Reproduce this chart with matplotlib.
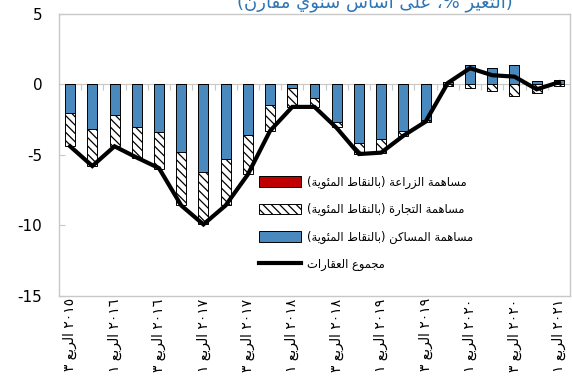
import re
import matplotlib
matplotlib.use("Agg")
import matplotlib.pyplot as plt
from matplotlib import font_manager
import numpy as np

# ---------------- data ----------------
tick_labels = ["٢٠١٥ الربع ٣", "٢٠١٦ الربع ١", "٢٠١٦ الربع ٣", "٢٠١٧ الربع ١",
               "٢٠١٧ الربع ٣", "٢٠١٨ الربع ١", "٢٠١٨ الربع ٣", "٢٠١٩ الربع ١",
               "٢٠١٩ الربع ٣", "٢٠٢٠ الربع ١", "٢٠٢٠ الربع ٣", "٢٠٢١ الربع ١"]
housing = [-2.0, -3.2, -2.2, -3.0, -3.4, -4.8, -6.2, -5.3, -3.6, -1.45, -0.25, -0.95,
           -2.7, -4.15, -3.9, -3.3, -2.5, 0.2, 1.4, 1.15, 1.4, 0.25, 0.3]
trade = [-2.4, -2.6, -2.2, -2.2, -2.6, -3.8, -3.75, -3.3, -2.8, -1.85, -1.35, -0.65,
         -0.35, -0.8, -0.95, -0.35, -0.15, -0.1, -0.25, -0.5, -0.85, -0.6, -0.15]
agriculture = [0.0] * 23
total = [-4.4, -5.8, -4.4, -5.2, -5.95, -8.6, -9.95, -8.6, -6.4, -3.3, -1.6, -1.6,
         -3.1, -4.95, -4.85, -3.65, -2.65, 0.1, 1.15, 0.65, 0.55, -0.35, 0.15]
series_names = ["مساهمة الزراعة (بالنقاط المئوية)",
                "مساهمة التجارة (بالنقاط المئوية)",
                "مساهمة المساكن (بالنقاط المئوية)",
                "مجموع العقارات"]
title = "(التغير %، على أساس سنوي مقارن)"

# ---------------- minimal Arabic shaping (matplotlib has no shaping) ----------------
FORMS = {
    'ا': ('\uFE8D', '\uFE8E', None, None),
    'أ': ('\uFE83', '\uFE84', None, None),
    'ب': ('\uFE8F', '\uFE90', '\uFE91', '\uFE92'),
    'ة': ('\uFE93', '\uFE94', None, None),
    'ت': ('\uFE95', '\uFE96', '\uFE97', '\uFE98'),
    'ج': ('\uFE9D', '\uFE9E', '\uFE9F', '\uFEA0'),
    'ر': ('\uFEAD', '\uFEAE', None, None),
    'ز': ('\uFEAF', '\uFEB0', None, None),
    'س': ('\uFEB1', '\uFEB2', '\uFEB3', '\uFEB4'),
    'ط': ('\uFEC1', '\uFEC2', '\uFEC3', '\uFEC4'),
    'ع': ('\uFEC9', '\uFECA', '\uFECB', '\uFECC'),
    'غ': ('\uFECD', '\uFECE', '\uFECF', '\uFED0'),
    'ق': ('\uFED5', '\uFED6', '\uFED7', '\uFED8'),
    'ك': ('\uFED9', '\uFEDA', '\uFEDB', '\uFEDC'),
    'ل': ('\uFEDD', '\uFEDE', '\uFEDF', '\uFEE0'),
    'م': ('\uFEE1', '\uFEE2', '\uFEE3', '\uFEE4'),
    'ن': ('\uFEE5', '\uFEE6', '\uFEE7', '\uFEE8'),
    'ه': ('\uFEE9', '\uFEEA', '\uFEEB', '\uFEEC'),
    'و': ('\uFEED', '\uFEEE', None, None),
    'ى': ('\uFEEF', '\uFEF0', None, None),
    'ي': ('\uFEF1', '\uFEF2', '\uFEF3', '\uFEF4'),
    'ئ': ('\uFE89', '\uFE8A', '\uFE8B', '\uFE8C'),
}
LAM_ALEF = {'ا': ('\uFEFB', '\uFEFC'), 'أ': ('\uFEF7', '\uFEF8')}


def _dual(c):
    return c in FORMS and FORMS[c][2] is not None


def shape(s):
    out, i, n = [], 0, len(s)
    while i < n:
        c = s[i]
        prev = s[i - 1] if i > 0 else None
        jp = prev is not None and _dual(prev) and c in FORMS
        if c == 'ل' and i + 1 < n and s[i + 1] in LAM_ALEF:
            out.append(LAM_ALEF[s[i + 1]][1 if jp else 0])
            i += 2
            continue
        if c in FORMS:
            nxt = s[i + 1] if i + 1 < n else None
            jn = _dual(c) and nxt is not None and nxt in FORMS
            f = FORMS[c]
            if jp and jn:
                out.append(f[3])
            elif jp:
                out.append(f[1])
            elif jn:
                out.append(f[2])
            else:
                out.append(f[0])
        else:
            out.append(c)
        i += 1
    return ''.join(out)


def rtl(s):
    t = shape(s)[::-1]
    t = re.sub(r'[0-9\u0660-\u0669]+', lambda m: m.group(0)[::-1], t)
    return t.translate(str.maketrans('()', ')('))


# ---------------- plot ----------------
plt.rcParams['font.family'] = ['DejaVu Sans']
plt.rcParams['hatch.linewidth'] = 0.9

leg_font = font_manager.FontProperties(family='DejaVu Sans', size=8.3)

fig = plt.figure(figsize=(5.72, 3.81), dpi=100)
ax = fig.add_axes([59 / 572, 1 - 295.5 / 381, 511 / 572, 281.5 / 381])

x = np.arange(len(total))
w = 0.45
blue = '#4A89BD'
red = '#C00000'

pos = np.zeros(len(x))
neg = np.zeros(len(x))


def stack(vals):
    v = np.array(vals, dtype=float)
    bottom = np.where(v >= 0, pos, neg)
    pos[:] += np.where(v >= 0, v, 0)
    neg[:] += np.where(v < 0, v, 0)
    return v, bottom


hv, hb = stack(housing)
tv, tb = stack(trade)
av, ab = stack(agriculture)

b_house = ax.bar(x, hv, w, bottom=hb, color=blue, edgecolor='black', linewidth=0.7, zorder=2)
b_trade = ax.bar(x, tv, w, bottom=tb, color='white', edgecolor='black', linewidth=0.7,
                 hatch='\\\\\\\\', zorder=2)
b_agri = ax.bar(x, av, w, bottom=ab, color=red, edgecolor='black', linewidth=0.7, zorder=2)
ln, = ax.plot(x, total, color='black', linewidth=3, solid_joinstyle='miter', zorder=3)

ax.set_xlim(-0.5, len(x) - 0.5)
ax.set_ylim(-15, 5)
ax.set_yticks([5, 0, -5, -10, -15])
ax.set_yticklabels(['5', '0', '-5', '-10', '-15'])
ax.tick_params(axis='y', direction='in', length=4, color='#C8C8C8', pad=12, labelsize=11)

ax.set_xticks(x[::2])
ax.set_xticklabels([rtl(t) for t in tick_labels], rotation=90, va='top', ha='center',
                   fontsize=10)
ax.tick_params(axis='x', length=0, pad=2)

for s in ax.spines.values():
    s.set_color('#C8C8C8')
    s.set_linewidth(1.0)

# category axis crossing at zero
sec = ax.secondary_xaxis(15 / 20)
sec.set_xticks(x[:-1] + 0.5)
sec.set_xticklabels([])
sec.tick_params(direction='in', length=4, color='#C8C8C8')
sec.spines['bottom'].set_color('#C8C8C8')
sec.spines['top'].set_color('#C8C8C8')

leg = ax.legend([b_agri, b_trade, b_house, ln], [rtl(s) for s in series_names],
                loc='upper left', bbox_to_anchor=(0.375, 0.455), frameon=False,
                prop=leg_font, handlelength=3.7, handleheight=1.0, handletextpad=0.45,
                labelspacing=1.25, borderpad=0.2)

fig.text(513 / 572, 1.0, rtl(title), ha='right', va='center', color='#2E75B6', fontsize=13)

fig.savefig('out.png', dpi=100)
